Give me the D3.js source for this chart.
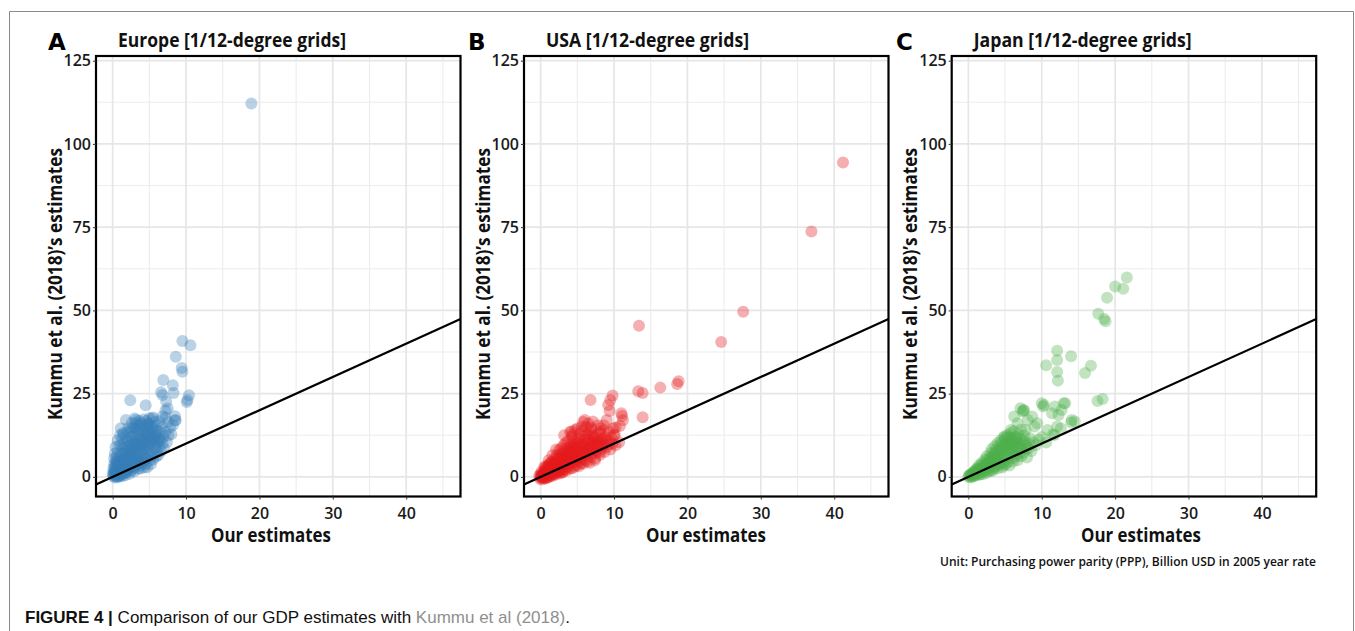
<!DOCTYPE html>
<html><head><meta charset="utf-8">
<script src="https://cdn.jsdelivr.net/npm/d3@7"></script>
<style>body{margin:0;background:#fff}svg{display:block}</style>
</head><body>
<svg id="chart" width="1355" height="631"></svg>
<script>
// ---------------- DATA ----------------
const panelLetters = ["A", "B", "C"];
const panelTitles = ["Europe [1/12-degree grids]", "USA [1/12-degree grids]", "Japan [1/12-degree grids]"];
const pointColors = ["#377EB8", "#E41A1C", "#4DAF4A"];
const xTicks = [0, 10, 20, 30, 40];
const xMinorTicks = [5, 15, 25, 35, 45];
const yTicks = [0, 25, 50, 75, 100, 125];
const yMinorTicks = [12.5, 37.5, 62.5, 87.5, 112.5];
const xTitle = "Our estimates";
const yTitle = "Kummu et al. (2018)\u2019s estimates";
const unitNote = "Unit: Purchasing power parity (PPP), Billion USD in 2005 year rate";
const captionLabel = "FIGURE 4 |";
const captionText = "Comparison of our GDP estimates with ";
const captionRef = "Kummu et al (2018)";
const captionEnd = ".";

// [our estimate, Kummu et al. estimate]
const europePoints = [
  [18.9,112.1],[9.5,40.8],[10.6,39.5],[8.6,36.1],[9.4,32.7],[9.5,31.6],[6.9,29.1],[8.2,27.5],[6.6,25.4],[6.8,24.6],
  [8.3,25.2],[10.4,24.5],[10.2,23.1],[10.1,22.5],[2.4,23.0],[4.5,21.5],[7.3,22.6],[7.5,20.5],[7.2,19.9],[8.5,18.2],
  [8.6,17.0],[1.8,17.1],[3.2,17.1],[5.0,17.6],[1.1,14.6],[5.5,17.8],
  [0.1,0.2],[0.2,0.8],[0.3,1.5],[0.1,2.5],[0.2,3.8],[0.4,0.3],[0.5,1.2],[0.6,2.2],[0.5,3.2],[0.7,0.5],
  [0.8,1.6],[0.9,2.8],[0.8,4.0],[1.0,0.7],[1.0,1.9],[0.3,-0.2],[0.6,-0.1],[0.9,0.1],[0.0,1.0],[0.4,4.5],
  [1.2,0.6],[1.2,2.4],[1.3,3.6],[1.4,5.0],[1.5,1.0],[1.5,2.0],[1.6,3.0],[1.6,4.3],[1.7,6.0],[1.8,1.3],
  [1.8,2.6],[1.9,3.8],[1.9,5.2],[2.0,7.0],[2.0,1.6],[1.3,0.2],[1.7,0.5],[1.1,7.0],[1.4,8.5],[1.6,10.0],
  [2.1,2.2],[2.2,3.4],[2.2,4.8],[2.3,6.2],[2.3,8.0],[2.4,9.5],[2.5,1.8],[2.5,3.0],[2.6,5.0],[2.6,7.0],
  [2.7,8.8],[2.7,11.0],[2.8,2.5],[2.9,4.2],[2.9,6.0],[3.0,7.8],[3.0,10.0],[2.4,12.0],[2.1,10.8],[2.9,1.6],[2.3,0.9],
  [3.1,3.0],[3.2,4.6],[3.2,6.4],[3.3,8.4],[3.3,11.0],[3.4,12.8],[3.5,2.4],[3.5,5.2],[3.6,7.2],[3.6,9.5],
  [3.7,11.8],[3.7,14.0],[3.8,3.5],[3.9,5.8],[3.9,8.0],[4.0,10.2],[4.0,12.5],[3.1,14.5],[3.4,15.5],[3.8,2.5],
  [4.1,4.2],[4.2,6.2],[4.2,8.5],[4.3,11.0],[4.4,13.2],[4.4,15.0],[4.5,3.8],[4.6,5.5],[4.6,7.6],[4.7,9.8],
  [4.8,12.0],[4.8,14.2],[4.9,16.0],[5.0,4.8],[5.0,6.8],[5.0,9.0],[4.3,2.8],[4.7,2.9],
  [5.2,11.0],[5.3,13.2],[5.4,15.0],[5.5,5.2],[5.5,7.5],[5.6,9.6],[5.7,12.0],[5.8,14.0],[5.9,6.0],[6.0,8.2],
  [6.0,10.4],[5.2,3.8],[5.7,16.5],[5.4,17.5],
  [6.2,6.5],[6.3,9.0],[6.4,11.5],[6.5,13.5],[6.6,7.8],[6.8,10.0],[6.9,12.0],[7.0,8.5],[6.7,15.0],[7.2,13.5],
  [7.4,10.5],[7.6,12.4],[7.8,14.8],[7.5,16.5],[8.0,12.8],[8.2,15.5],[8.5,17.0],
  [0.5,6.0],[0.7,7.5],[0.4,9.0],[0.7,11.0],[1.0,12.5],[1.2,9.5],[1.3,11.5],[1.5,12.8],[1.8,8.8],[1.9,11.8],
  [2.0,13.5],[2.2,14.8],[2.5,13.8],[2.8,12.5],[2.9,14.8],[3.2,16.2],[3.6,16.8],[4.0,15.6],[4.2,17.2],[4.6,16.8],
  [5.0,15.5],[5.3,14.2],[5.8,12.8],[6.2,13.8],[6.5,11.0],[6.0,15.5],[6.4,16.8],[6.8,18.2],[7.2,17.8],[3.0,17.5],[2.6,16.2],
  [0.2,1.8],[0.3,2.9],[0.5,4.0],[0.6,5.0],[0.7,3.5],[0.9,5.8],[1.1,4.0],[1.2,6.0],[1.4,3.2],[1.5,6.8],
  [1.7,4.8],[1.8,7.5],[2.0,5.8],[2.1,9.2],[2.3,5.2],[2.4,7.2],[2.6,9.8],[2.8,7.8],[2.9,10.5],[3.1,5.6],
  [3.2,9.2],[3.4,10.2],[3.5,13.8],[3.6,4.2],[3.8,9.0],[3.9,11.2],[4.0,13.8],[4.1,7.2],[4.3,9.6],[4.5,12.4],
  [4.6,10.6],[4.8,8.4],[4.9,13.2],[5.1,10.2],[5.2,12.0],[5.3,6.2],[5.6,11.0],[5.8,8.8],[6.0,12.0],[6.2,10.8],
  [0.1,0.6],[0.4,1.0],[0.6,1.5],[0.8,0.2],[1.1,1.2],[1.3,1.6],[1.6,2.2],[1.9,2.0],[2.2,2.6],[2.5,4.0],
  [2.8,3.4],[3.2,3.8],[3.5,4.4],[4.0,4.8],[4.4,5.2],[0.2,5.5],[0.3,7.0],[0.9,9.5],[1.4,13.2],[2.6,14.5],
  [3.9,16.2],[4.8,15.8]
];

const usaPoints = [
  [41.2,94.4],[36.9,73.7],[27.6,49.6],[24.6,40.5],[13.4,45.4],[18.8,28.7],[18.6,27.9],[16.3,26.8],[13.3,25.7],[13.9,25.2],
  [13.9,17.9],[6.8,23.1],[9.8,24.4],[9.5,23.1],[9.2,21.6],[9.4,19.8],[11.1,18.3],[11.0,19.1],[11.2,17.0],[10.8,15.3],
  [6.0,17.1],[7.1,16.6],[5.6,15.1],[4.7,14.1],[4.2,13.6],[9.0,17.1],[8.6,15.5],[10.2,14.8],[10.7,10.4],[7.4,5.0],
  [8.2,14.6],[9.9,14.6],[10.1,12.6],
  [0.0,0.0],[0.2,0.5],[0.3,-0.3],[0.4,1.2],[0.5,0.2],[0.6,2.0],[0.7,0.8],[0.8,-0.2],[0.9,1.6],[1.0,2.8],
  [1.0,0.4],[1.2,1.2],[1.2,3.6],[1.3,2.2],[1.4,0.5],[1.5,4.5],[1.6,1.5],[1.7,3.0],[1.8,0.8],[1.9,5.5],
  [2.0,2.2],[2.0,4.0],[2.2,1.2],[2.2,6.5],[2.3,3.2],[2.4,5.0],[2.5,8.0],[2.6,2.0],[2.7,4.2],[2.8,6.2],
  [2.9,1.2],[3.0,3.0],[3.0,7.5],[3.1,9.5],[3.2,5.2],[3.3,2.2],[3.4,4.0],[3.5,6.8],[3.6,8.8],[3.7,10.8],
  [3.8,3.0],[3.9,5.0],[4.0,7.6],[4.1,9.8],[4.2,12.0],[4.3,2.6],[4.4,4.2],[4.5,6.0],[4.6,8.5],[4.7,10.8],
  [4.9,3.5],[5.0,5.2],[5.1,7.2],[5.2,9.4],[5.3,11.6],[5.4,13.0],[5.5,4.0],[5.6,6.2],[5.7,8.2],[5.9,10.2],
  [6.0,12.2],[6.1,5.0],[6.2,7.0],[6.4,9.0],[6.5,11.2],[6.6,13.6],[6.7,4.2],[6.8,6.0],[7.0,8.0],[7.1,10.0],
  [7.2,12.2],[7.4,5.6],[7.5,7.2],[7.7,9.2],[7.8,11.2],[8.0,13.0],[8.1,6.6],[8.3,8.4],[8.5,10.2],[8.8,12.0],
  [8.7,7.5],[9.0,9.0],[9.2,11.0],[9.5,8.2],[9.8,10.0],[10.2,9.5],[0.5,3.0],[1.1,5.0],[1.6,6.5],[2.1,8.2],[0.1,1.5],
  [3.2,12.5],[4.0,13.5],[5.0,14.5],[6.2,15.0],[7.0,14.2],[5.8,16.5],[6.5,16.0],[7.8,15.5],[8.6,14.0],[9.3,13.6],[10.0,12.5],
  [0.1,0.4],[0.3,0.9],[0.4,0.0],[0.6,0.6],[0.8,1.0],[0.9,2.2],[1.1,1.8],[1.3,0.8],[1.4,2.8],[1.5,1.8],
  [1.7,1.0],[1.8,3.8],[1.9,2.6],[2.1,1.6],[2.3,4.4],[2.4,2.8],[2.6,5.6],[2.7,1.6],[2.9,3.6],[3.1,6.0],
  [3.3,4.8],[3.5,3.2],[3.7,6.0],[3.9,7.8],[4.1,4.6],[4.3,6.8],[4.5,8.8],[4.8,6.6],[5.0,10.2],[5.3,4.6],
  [5.8,7.4],[6.3,8.2],[6.8,9.6],[7.3,10.8],[7.9,9.8],[8.4,11.4],[-0.2,0.3],[-0.1,-0.6],[0.2,-0.8],[0.7,-0.5],
  [0.3,0.2],[0.5,1.5],[0.7,2.6],[0.9,0.9],[1.1,3.2],[1.2,0.2],[1.4,1.8],[1.6,3.8],[1.8,2.0],[1.9,4.6],
  [2.1,3.0],[2.2,5.4],[2.4,1.8],[2.5,3.8],[2.6,6.8],[2.8,4.8],[3.0,2.2],[3.1,4.2],[3.2,7.0],[3.4,5.6],
  [3.6,3.8],[3.7,8.0],[3.8,6.4],[4.0,4.0],[4.1,9.0],[4.2,7.2],[4.4,5.6],[4.5,10.4],[4.7,7.8],[4.8,4.8],
  [5.0,8.8],[5.1,6.0],[5.2,11.0],[5.4,7.6],[5.5,9.8],[5.7,5.4],[5.9,8.8],[6.0,11.4],[6.1,6.6],[6.3,10.0],
  [6.4,12.8],[6.6,8.4],[6.7,11.0],[6.9,7.2],[7.0,12.6],[7.2,9.0],[7.4,11.8],[7.6,8.0],[7.8,10.2],[8.0,7.4],
  [8.2,11.0],[8.4,9.2],[8.9,10.6],[9.3,9.8],[0.0,0.8],[0.2,-0.3],[0.5,-0.4],[1.0,-0.2],[1.5,0.2],[2.0,0.6],
  [2.5,1.0],[3.0,1.4],[3.5,1.8],[4.0,2.4],[4.6,3.0],[5.2,3.2],[5.8,4.0],[6.4,4.6],[1.3,4.2],[1.0,3.6],
  [0.6,2.8],[2.8,8.6],[3.4,10.2],[4.3,12.6],[5.6,13.8],[6.9,14.8],[8.1,13.6],[9.6,11.8]
];

const japanPoints = [
  [21.6,59.9],[20.0,57.2],[21.1,56.5],[18.9,53.8],[17.7,49.0],[18.5,47.4],[18.7,46.7],[12.1,37.9],[12.1,35.1],[14.0,36.2],
  [10.6,33.5],[12.1,31.5],[12.2,28.9],[16.7,33.4],[15.9,31.2],[17.6,22.8],[18.3,23.4],[12.6,14.5],[11.5,12.7],
  [7.1,20.6],[7.5,20.1],[7.6,19.9],[10.0,22.1],[10.2,21.1],[11.8,21.1],[13.2,22.1],[12.7,20.1],[11.4,19.1],[12.3,18.6],
  [14.1,17.1],[14.5,16.6],[14.0,16.3],[8.7,18.1],[8.1,17.1],[9.4,16.1],[6.7,16.1],[5.8,14.1],[7.8,14.1],[9.0,15.1],
  [10.8,14.1],[12.1,15.1],[11.7,12.6],[10.6,10.3],[10.0,12.0],[4.9,12.1],[6.25,18.1],[7.4,19.6],[13.0,22.1],[10.3,21.6],
  [0.0,0.0],[0.2,0.6],[0.3,-0.2],[0.5,1.0],[0.6,0.2],[0.8,1.6],[0.9,0.5],[1.0,2.2],[1.1,0.9],[1.3,2.8],
  [1.4,1.2],[1.5,3.6],[1.6,0.8],[1.8,2.0],[1.9,4.4],[2.0,1.4],[2.1,3.0],[2.3,5.2],[2.4,2.2],[2.5,6.2],
  [2.6,3.8],[2.8,1.8],[2.9,5.0],[3.0,7.2],[3.1,3.0],[3.2,8.4],[3.3,6.0],[3.4,4.2],[3.5,2.4],[3.6,9.2],
  [3.7,7.0],[3.8,5.2],[3.9,3.4],[4.0,10.2],[4.1,8.0],[4.2,6.2],[4.3,4.2],[4.4,11.0],[4.5,9.0],[4.6,2.8],
  [4.7,7.0],[4.8,5.0],[4.9,11.8],[5.0,9.8],[5.1,3.8],[5.2,7.8],[5.3,12.6],[5.4,5.8],[5.5,10.4],[5.6,3.4],
  [5.7,8.4],[5.8,13.2],[5.9,6.6],[6.0,11.0],[6.1,4.6],[6.2,9.0],[6.4,12.0],[6.5,6.8],[6.6,10.0],[6.7,5.0],
  [6.9,8.2],[7.0,11.4],[7.2,6.2],[7.3,9.4],[7.5,7.2],[7.7,10.6],[7.9,8.4],[8.0,5.8],[8.3,9.8],[8.6,7.8],
  [0.1,0.3],[0.4,0.5],[0.7,1.2],[1.2,1.6],[1.7,2.4],[2.2,2.0],[2.7,2.8],[3.0,4.4],[3.5,5.6],[4.0,5.6],
  [4.5,6.4],[5.0,7.0],[5.5,8.0],[6.0,8.0],[6.5,9.0],[3.3,1.8],[4.0,2.6],[4.8,3.4],[2.0,0.8],[1.0,0.3],
  [5.8,10.2],[6.8,12.8],[6.2,13.8],[7.2,14.2],[7.6,12.4],[8.4,11.6],[8.8,10.4],[9.2,9.6],[9.6,11.2],
  [0.3,0.6],[0.6,0.9],[0.9,1.6],[1.2,2.2],[1.5,2.4],[1.7,3.4],[2.0,2.6],[2.2,4.0],[2.4,3.2],[2.6,5.2],
  [2.8,4.2],[3.0,6.0],[3.2,5.0],[3.4,7.2],[3.6,6.4],[3.8,8.2],[4.0,7.0],[4.2,9.4],[4.4,8.0],[4.6,10.4],
  [4.8,8.8],[5.0,11.2],[5.2,9.6],[5.4,12.0],[5.6,9.0],[5.8,11.8],[6.0,9.8],[6.3,10.8],[6.6,11.8],[6.9,10.2],
  [7.2,8.6],[7.4,11.0],[7.8,9.6],[8.2,8.6],[3.6,3.0],[4.2,3.8],[4.8,4.2],[5.4,4.6],[6.0,5.6],[6.6,6.2],
  [7.0,7.2],[2.5,1.2],[3.0,1.8],[1.5,0.6],[0.5,0.0]
];

// ---------------- LAYOUT ----------------
const W = 1355, H = 631;
const layout = {
  lefts: [96, 524, 951.7], width: 364.5, top: 56, height: 440.5,
  letterX: [48, 468, 896], titleDx: 22, xTitleX: [271, 706, 1141],
  titleLen: [228, 203, 218]
};
const xDomain = [-2.27, 47.4];
const yDomain = [-5.9, 126.4];
const font = "'Open Sans', 'Noto Sans', sans-serif";
const datasets = [europePoints, usaPoints, japanPoints];

const svg = d3.select("#chart");
svg.append("rect").attr("width", W).attr("height", H).attr("fill", "#fff");
svg.append("path").attr("d", `M9.5,${H} V11.5 H1353.5 V${H}`)
  .attr("fill", "none").attr("stroke", "#8a8a8a").attr("stroke-width", 1);

datasets.forEach((pts, i) => {
  const left = layout.lefts[i], w = layout.width, h = layout.height, top = layout.top;
  const x = d3.scaleLinear().domain(xDomain).range([0, w]);
  const y = d3.scaleLinear().domain(yDomain).range([h, 0]);
  const g = svg.append("g").attr("transform", `translate(${left},${top})`);
  const clipId = "clip" + i;
  g.append("clipPath").attr("id", clipId).append("rect").attr("width", w).attr("height", h);

  g.append("rect").attr("width", w).attr("height", h).attr("fill", "#fff");
  // minor grid
  g.selectAll(".xmin").data(xMinorTicks.filter(d => x(d) < w)).join("line")
    .attr("x1", d => x(d)).attr("x2", d => x(d)).attr("y1", 0).attr("y2", h)
    .attr("stroke", "#ececec").attr("stroke-width", 1.1);
  g.selectAll(".ymin").data(yMinorTicks).join("line")
    .attr("y1", d => y(d)).attr("y2", d => y(d)).attr("x1", 0).attr("x2", w)
    .attr("stroke", "#ececec").attr("stroke-width", 1.1);
  // major grid
  g.selectAll(".xmaj").data(xTicks).join("line")
    .attr("x1", d => x(d)).attr("x2", d => x(d)).attr("y1", 0).attr("y2", h)
    .attr("stroke", "#e6e6e6").attr("stroke-width", 1.7);
  g.selectAll(".ymaj").data(yTicks).join("line")
    .attr("y1", d => y(d)).attr("y2", d => y(d)).attr("x1", 0).attr("x2", w)
    .attr("stroke", "#e6e6e6").attr("stroke-width", 1.7);

  // points
  g.append("g").attr("clip-path", `url(#${clipId})`)
    .selectAll("circle").data(pts).join("circle")
    .attr("cx", d => x(d[0])).attr("cy", d => y(d[1])).attr("r", 6)
    .attr("fill", pointColors[i]).attr("fill-opacity", 0.35);

  // 1:1 line
  g.append("line").attr("clip-path", `url(#${clipId})`)
    .attr("x1", x(xDomain[0])).attr("y1", y(xDomain[0]))
    .attr("x2", x(xDomain[1])).attr("y2", y(xDomain[1]))
    .attr("stroke", "#000").attr("stroke-width", 2.2);

  // frame
  g.append("rect").attr("width", w).attr("height", h)
    .attr("fill", "none").attr("stroke", "#000").attr("stroke-width", 2.2);

  // axes
  const ya = g.append("g").call(d3.axisLeft(y).tickValues(yTicks).tickSize(3).tickPadding(2));
  ya.select(".domain").remove();
  ya.selectAll("line").attr("stroke", "#333");
  ya.selectAll("text").attr("font-family", font).attr("font-size", 16).attr("font-weight", 600).attr("fill", "#1a1a1a");
  const xa = g.append("g").attr("transform", `translate(0,${h})`)
    .call(d3.axisBottom(x).tickValues(xTicks).tickSize(3).tickPadding(8));
  xa.select(".domain").remove();
  xa.selectAll("line").attr("stroke", "#333");
  xa.selectAll("text").attr("font-family", font).attr("font-size", 16).attr("font-weight", 600).attr("fill", "#1a1a1a");

  // axis titles
  svg.append("text").attr("x", layout.xTitleX[i]).attr("y", 542).attr("text-anchor", "middle")
    .attr("font-family", font).attr("font-size", 19).attr("font-weight", 700).attr("fill", "#111")
    .attr("textLength", 120).attr("lengthAdjust", "spacingAndGlyphs").text(xTitle);
  svg.append("text").attr("transform", `translate(${left - 34.5},${284}) rotate(-90)`)
    .attr("text-anchor", "middle")
    .attr("font-family", font).attr("font-size", 19).attr("font-weight", 700).attr("fill", "#111")
    .attr("textLength", 272).attr("lengthAdjust", "spacingAndGlyphs").text(yTitle);

  // panel titles
  svg.append("text").attr("x", left + layout.titleDx).attr("y", 46.5)
    .attr("font-family", font).attr("font-size", 19).attr("font-weight", 700).attr("fill", "#111")
    .attr("textLength", layout.titleLen[i]).attr("lengthAdjust", "spacingAndGlyphs").text(panelTitles[i]);
  svg.append("text").attr("x", layout.letterX[i]).attr("y", 50)
    .attr("font-family", "'DejaVu Sans', sans-serif").attr("font-size", 23).attr("font-weight", 700).attr("fill", "#000")
    .text(panelLetters[i]);
});

// unit note
svg.append("text").attr("x", 1316).attr("y", 566).attr("text-anchor", "end")
  .attr("font-family", font).attr("font-size", 12.5).attr("font-weight", 600).attr("fill", "#111")
  .attr("textLength", 376).attr("lengthAdjust", "spacingAndGlyphs").text(unitNote);

// caption
const cap = svg.append("text").attr("x", 25).attr("y", 623)
  .attr("font-family", "'Liberation Sans', Arial, sans-serif").attr("font-size", 17).attr("fill", "#111");
cap.append("tspan").attr("font-weight", 700).attr("font-family", "'Liberation Sans Narrow', 'Liberation Sans', sans-serif").text(captionLabel + " ");
cap.append("tspan").text(captionText);
cap.append("tspan").attr("fill", "#8f8f8f").text(captionRef);
cap.append("tspan").text(captionEnd);
</script>
</body></html>
